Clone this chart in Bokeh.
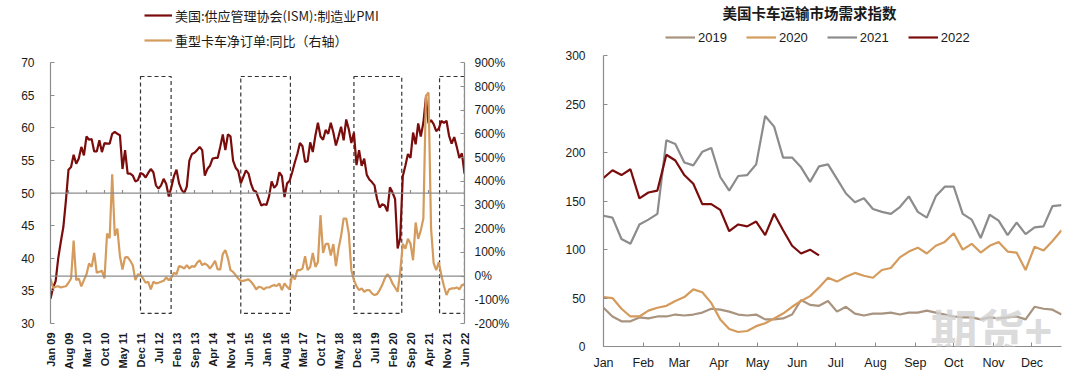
import math
from bokeh.plotting import figure
from bokeh.models import (Range1d, LinearAxis, FixedTicker, Span, Legend, LegendItem, Label)
from bokeh.layouts import row, column
from bokeh.embed import file_html
from bokeh.resources import INLINE

FONT = "Liberation Sans"
CJK = "Noto Sans CJK SC"

# ---------------- Left chart data (monthly, Jan 09 .. Jun 22) ----------------
pmi = [
    33.8, 35.5, 36.5, 40.0, 42.5, 44.8, 48.9, 53.6, 54.0, 55.9, 54.5, 55.3,   # 2009
    57.1, 55.8, 58.7, 58.2, 58.3, 56.4, 56.4, 58.1, 56.3, 57.7, 57.6, 57.6,   # 2010
    59.1, 59.4, 59.1, 58.9, 53.7, 56.6, 53.0, 53.0, 52.7, 51.8, 52.0, 53.1,   # 2011
    52.9, 52.4, 53.1, 53.7, 53.2, 51.2, 50.7, 51.2, 52.2, 51.4, 49.5, 50.9,   # 2012
    52.6, 53.6, 51.5, 50.5, 50.0, 51.0, 55.0, 56.0, 56.2, 56.6, 57.1, 56.6,   # 2013
    52.7, 53.7, 54.2, 55.3, 55.4, 55.4, 57.1, 59.0, 56.6, 59.0, 58.7, 55.0,   # 2014
    53.9, 53.4, 51.5, 52.5, 53.5, 53.0, 51.4, 50.4, 50.2, 49.1, 48.1, 48.3,   # 2015
    48.2, 49.5, 51.8, 50.8, 51.3, 53.2, 52.6, 49.4, 51.5, 51.9, 53.2, 54.7,   # 2016
    56.0, 57.7, 57.2, 54.8, 54.9, 57.8, 56.3, 58.8, 60.8, 58.7, 58.2, 59.7,   # 2017
    59.1, 60.8, 59.3, 57.3, 58.7, 60.2, 58.1, 61.3, 59.8, 57.7, 59.3, 54.3,   # 2018
    56.6, 54.2, 55.3, 52.8, 52.1, 51.7, 51.2, 49.1, 47.8, 48.3, 48.1, 47.2,   # 2019
    50.9, 50.1, 49.1, 41.5, 43.1, 52.6, 54.2, 56.0, 55.4, 59.3, 57.5, 60.7,   # 2020
    58.7, 60.8, 64.7, 60.7, 61.2, 60.6, 59.5, 59.9, 61.1, 60.8, 61.1, 58.8,   # 2021
    57.6, 58.6, 57.1, 55.4, 56.1, 53.0,                                       # 2022
]
truck_yoy = [
    -10, -50, -45, -43, -48, -45, -43, -28, -10, 150, -17, -10,      # 2009
    -43, -17, 8, 53, 39, 98, 14, 18, 22, -10, 180, 160,              # 2010
    430, 170, 200, 85, 28, 79, 80, 65, 46, -17, 8, 5,                # 2011
    -10, -28, -24, -56, -24, -31, -28, -24, -20, -6, -17, -6,        # 2012
    14, 8, 42, 39, 32, 46, 32, 42, 39, 56, 67, 46,                   # 2013
    53, 46, 32, 46, 65, 28, 28, 93, 110, 75, 25, 18,                 # 2014
    4, -10, -20, -20, -17, -13, -24, -38, -56, -45, -48, -56,        # 2015
    -48, -48, -42, -38, -42, -31, -59, -31, -45, -56, 8, -14,        # 2016
    25, 25, 32, 84, 25, 39, 98, 39, 59, 257, 98, 135,                # 2017
    137, 87, 135, 42, 115, 169, 243, 243, 180, 25, -17, -42,         # 2018
    -59, -52, -66, -59, -59, -73, -80, -76, -59, -38, -10, 8,        # 2019
    -6, -31, -48, -66, 18, 137, 115, 157, 137, 67, 226, 157,         # 2020
    193, 243, 760, 775, 200, 55, 25, 59, 4, -42, -80, -56,           # 2021
    -52, -52, -48, -56, -38, -35,                                    # 2022
]
month_idx = list(range(len(pmi)))
x_tick_idx = list(range(0, 162, 7))
x_tick_labels = ["Jan 09", "Aug 09", "Mar 10", "Oct 10", "May 11", "Dec 11", "Jul 12", "Feb 13",
                 "Sep 13", "Apr 14", "Nov 14", "Jun 15", "Jan 16", "Aug 16", "Mar 17", "Oct 17",
                 "May 18", "Dec 18", "Jul 19", "Feb 20", "Sep 20", "Apr 21", "Nov 21", "Jun 22"]
# highlighted periods (month index start, end)
box_start = [35, 74, 118, 151.3]
box_end = [46.9, 93.3, 136.6, 161]

left_ticks = list(range(30, 71, 5))
right_ticks = list(range(-200, 901, 100))

# ---------------- Right chart data (weekly index) ----------------
w2019 = [40, 31, 26, 26, 30, 29, 31, 31, 33, 32, 33, 35, 39, 38, 36, 33, 32, 33, 28, 28,
         29, 33, 48, 43, 42, 47, 36, 41, 34, 32, 34, 34, 35, 33, 35, 35, 37, 35, 33, 31,
         30, 30, 28, 30, 29, 30, 31, 28, 41, 39, 38, 33]
w2020 = [51, 50, 39, 31, 31, 37, 40, 42, 47, 51, 59, 56, 45, 28, 18, 15, 16, 21, 24, 29,
         34, 41, 47, 52, 61, 71, 67, 72, 76, 73, 71, 79, 81, 92, 98, 102, 96, 104, 108, 117,
         100, 106, 97, 104, 108, 98, 97, 79, 103, 99, 109, 120]
w2021 = [135, 133, 111, 106, 126, 131, 137, 213, 209, 190, 187, 201, 205, 175, 161, 176, 177, 188, 238, 227,
         195, 195, 185, 170, 186, 188, 173, 158, 149, 153, 142, 139, 137, 144, 155, 139, 133, 155, 165, 165,
         137, 131, 112, 136, 130, 115, 128, 116, 123, 124, 145, 146]
w2022 = [174, 182, 177, 183, 153, 159, 161, 198, 192, 177, 168, 147, 147, 141, 119, 126, 124, 129, 115, 137,
         120, 104, 96, 100, 94]
month_labels = ["Jan", "Feb", "Mar", "Apr", "May", "Jun", "Jul", "Aug", "Sep", "Oct", "Nov", "Dec"]
month_start_day = [0, 31, 59, 90, 120, 151, 181, 212, 243, 273, 304, 334]
year_labels = ["2019", "2020", "2021", "2022"]

RED = "#7B0C0C"
ORANGE = "#D49B5C"
TAUPE = "#A8937F"
GREY = "#8C8C8C"
AXIS = "#8C8C8C"
TXT = "#1A1A1A"


def style_axis(ax, size="12px"):
    ax.axis_line_color = AXIS
    ax.axis_line_width = 1.2
    ax.major_tick_line_color = AXIS
    ax.major_tick_in = 4
    ax.major_tick_out = 0
    ax.minor_tick_line_color = None
    ax.major_label_text_font = FONT
    ax.major_label_text_font_size = size
    ax.major_label_text_color = TXT


def extend_top(lo, hi, px_top_of_axis, px_bottom_of_axis, frame_top_px):
    """Range top so that value hi sits at px_top_of_axis while frame starts at frame_top_px."""
    per_px = (hi - lo) / (px_bottom_of_axis - px_top_of_axis)
    return hi + (px_top_of_axis - frame_top_px) * per_px


# ---------------- Left figure ----------------
L_TOP, L_BOTTOM = 62.3, 323.0     # pixel rows of the axis ends (70 / 30)
p1 = figure(width=553, height=376, output_backend="svg", toolbar_location=None,
            x_range=Range1d(0, 161), y_range=Range1d(30, extend_top(30, 70, L_TOP, L_BOTTOM, 0)),
            min_border_left=50, min_border_right=89, min_border_top=0, min_border_bottom=53)
p1.extra_y_ranges = {"right": Range1d(-200, extend_top(-200, 900, L_TOP, L_BOTTOM, 0))}
p1.outline_line_color = None
p1.grid.visible = False

p1.quad(left=box_start, right=box_end, top=67.9, bottom=31.55, fill_color=None,
        line_color="#333333", line_dash="4 3", line_width=1.2)
p1.add_layout(Span(location=50, dimension="width", line_color=AXIS, line_width=1.2))
p1.add_layout(Span(location=0, dimension="width", y_range_name="right", line_color=AXIS, line_width=1.2))
p1.segment(x0=x_tick_idx, x1=x_tick_idx, y0=50, y1=50.5, line_color=AXIS, line_width=1.2)

r_pmi = p1.line(month_idx, pmi, line_color=RED, line_width=2.2)
r_truck = p1.line(month_idx, truck_yoy, y_range_name="right", line_color=ORANGE, line_width=2.2)

style_axis(p1.yaxis[0])
p1.yaxis[0].ticker = FixedTicker(ticks=left_ticks)
p1.yaxis[0].bounds = (30, 70)
p1.yaxis[0].major_label_standoff = 16

ax_r = LinearAxis(y_range_name="right", ticker=FixedTicker(ticks=right_ticks), bounds=(-200, 900),
                  major_label_overrides={v: f"{v}%" for v in right_ticks})
style_axis(ax_r, "12px")
ax_r.major_label_standoff = 10
p1.add_layout(ax_r, "right")

xa = p1.xaxis[0]
xa.ticker = FixedTicker(ticks=x_tick_idx)
xa.major_label_overrides = {i: s for i, s in zip(x_tick_idx, x_tick_labels)}
xa.major_label_orientation = math.pi / 2
xa.axis_line_color = None
xa.major_tick_line_color = None
xa.major_tick_in = 0
xa.major_tick_out = 0
xa.minor_tick_line_color = None
xa.major_label_standoff = 9
xa.major_label_text_font = FONT
xa.major_label_text_font_size = "11px"
xa.major_label_text_font_style = "bold"
xa.major_label_text_color = TXT

leg1 = Legend(items=[LegendItem(label="美国:供应管理协会(ISM):制造业PMI", renderers=[r_pmi]),
                     LegendItem(label="重型卡车净订单:同比（右轴）", renderers=[r_truck])],
              location=(94, 273), orientation="vertical", border_line_color=None,
              background_fill_alpha=0, padding=0, margin=0, spacing=5, glyph_width=28,
              glyph_height=20, label_height=20, label_standoff=3,
              label_text_font=CJK, label_text_font_size="13px", label_text_color=TXT)
p1.add_layout(leg1)

# ---------------- Right figure ----------------
R_TOP, R_BOTTOM, R_FRAME_TOP = 52.7, 346.0, 22
p2 = figure(width=527, height=376, output_backend="svg", toolbar_location=None,
            x_range=Range1d(0, 51), y_range=Range1d(0, extend_top(0, 300, R_TOP, R_BOTTOM, R_FRAME_TOP)),
            min_border_left=50, min_border_right=19, min_border_top=R_FRAME_TOP, min_border_bottom=30)
p2.outline_line_color = None
p2.grid.visible = False
p2.title.text = "美国卡车运输市场需求指数"
p2.title.text_font = CJK
p2.title.text_font_size = "14.5px"
p2.title.text_font_style = "bold"
p2.title.text_color = TXT
p2.title.align = "left"
p2.title.offset = 119
p2.title.standoff = 2
p2.title.vertical_align = "top"

weeks = list(range(52))
r19 = p2.line(weeks, w2019, line_color=TAUPE, line_width=2.2)
r20 = p2.line(weeks, w2020, line_color=ORANGE, line_width=2.2)
r21 = p2.line(weeks, w2021, line_color=GREY, line_width=2.2)
r22 = p2.line(list(range(len(w2022))), w2022, line_color=RED, line_width=2.2)

style_axis(p2.yaxis[0])
p2.yaxis[0].ticker = FixedTicker(ticks=list(range(0, 301, 50)))
p2.yaxis[0].bounds = (0, 300)
p2.yaxis[0].major_label_standoff = 18

month_pos = [d / 7 for d in month_start_day]
xb = p2.xaxis[0]
style_axis(xb, "12.5px")
xb.ticker = FixedTicker(ticks=month_pos)
xb.major_label_overrides = {m: s for m, s in zip(month_pos, month_labels)}
xb.major_label_standoff = 9

leg2 = Legend(items=[LegendItem(label=y, renderers=[r]) for y, r in zip(year_labels, [r19, r20, r21, r22])],
              location=(62, 299), orientation="horizontal", border_line_color=None,
              background_fill_alpha=0, padding=0, margin=0, spacing=19, glyph_width=30,
              glyph_height=20, label_height=20, label_standoff=3,
              label_text_font=FONT, label_text_font_size="13px", label_text_color=TXT)
p2.add_layout(leg2)

wm = Label(x=36.4, y=19, text="期货+", text_font=CJK, text_font_size="47px", text_font_style="bold",
           text_color="#D2D2D2", text_alpha=0.8, text_baseline="middle")
p2.add_layout(wm)

layout = row(column(p1), column(p2))
open("out.html", "w").write(file_html(layout, INLINE))
